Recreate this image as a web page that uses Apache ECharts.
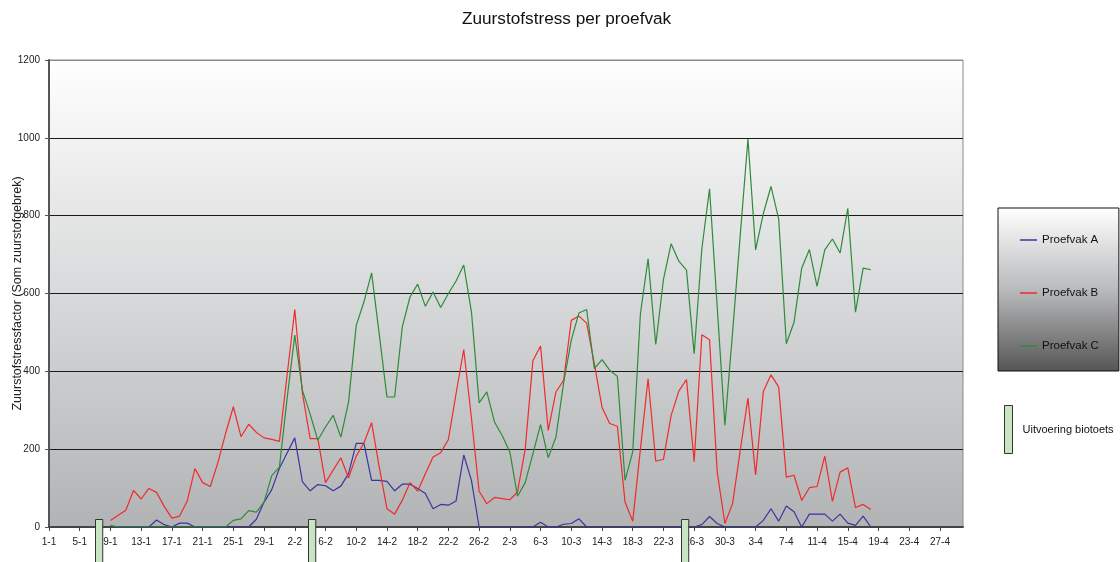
<!DOCTYPE html>
<html>
<head>
<meta charset="utf-8">
<title>Zuurstofstress per proefvak</title>
<script src="https://cdn.jsdelivr.net/npm/echarts@6/dist/echarts.min.js"></script>
<style>
  html, body { margin: 0; padding: 0; background: #fff; }
  #chart { width: 1120px; height: 562px; }
</style>
</head>
<body>
<div id="chart"></div>
<script>
// dagen 1-1 t/m 30-4 (geen schrikkeljaar)
const maandLengtes = [31, 28, 31, 30];
const datums = [];
maandLengtes.forEach((n, m) => {
  for (let d = 1; d <= n; d++) datums.push(d + '-' + (m + 1));
});

// metingen lopen van 9-1 t/m 18-4
const startDatum = '9-1';

const proefvakA = [
  0, 0, 0, 0, 0, 0, 18, 6, 0, 10, 10, 0, 0, 0, 0, 0, 0, 0, 0, 20,
  64, 96, 151, 190, 229, 116, 93, 109, 106, 93, 105, 137, 215, 215, 120, 120, 117, 93, 110, 110,
  99, 86, 47, 58, 56, 67, 185, 120, 0, 0, 0, 0, 0, 0, 0, 0, 12, 0, 0, 7,
  9, 21, 0, 0, 0, 0, 0, 0, 0, 0, 0, 0, 0, 0, 0, 0, 0, 6, 27, 9,
  0, 0, 0, 0, 0, 17, 47, 15, 54, 39, 0, 33, 33, 33, 15, 33, 10, 4, 28, 0
];

const proefvakB = [
  17, 30, 43, 94, 72, 99, 89, 53, 23, 28, 67, 150, 114, 104, 166, 241, 309, 232, 264, 243,
  229, 225, 220, 390, 559, 343, 227, 227, 114, 146, 178, 126, 182, 216, 268, 154, 47, 33, 69, 114,
  92, 137, 180, 191, 225, 343, 456, 280, 92, 60, 76, 73, 70, 90, 200, 427, 465, 248, 347, 377,
  531, 542, 524, 420, 308, 266, 259, 64, 15, 200, 381, 169, 174, 287, 349, 379, 168, 494, 481, 141,
  9, 60, 197, 331, 134, 348, 391, 360, 128, 133, 68, 101, 104, 182, 66, 141, 152, 50, 58, 45
];

const proefvakC = [
  4, 0, 0, 0, 0, 0, 0, 0, 0, 0, 0, 0, 0, 0, 0, 0, 17, 21, 42, 38,
  64, 132, 154, 330, 493, 351, 290, 223, 257, 287, 231, 321, 518, 578, 653, 495, 334, 334, 514, 591,
  624, 567, 604, 564, 600, 632, 673, 553, 319, 347, 270, 235, 193, 79, 114, 188, 263, 178, 231, 370,
  480, 550, 559, 407, 430, 403, 387, 120, 193, 548, 689, 469, 636, 728, 683, 660, 445, 715, 869, 565,
  261, 500, 750, 997, 712, 805, 875, 792, 471, 526, 665, 713, 618, 712, 740, 704, 819, 552, 665, 661
];

// uitvoering biotoets
const biotoetsDatums = ['7-1', '4-2', '25-3'];
const biotoetsWaarde = 20;

const yMin = 0;
const yMax = 1200;
const yStap = 200;

const fontFamily = '"Liberation Sans", Arial, Helvetica, sans-serif';

// reeks op volle datumas zetten
function opAs(waarden) {
  const start = datums.indexOf(startDatum);
  return datums.map((d, i) => {
    const v = waarden[i - start];
    return v === undefined ? null : v;
  });
}

const chart = echarts.init(document.getElementById('chart'), null, { renderer: 'canvas' });

function lijn(naam, waarden, kleur) {
  return {
    name: naam,
    type: 'line',
    data: opAs(waarden),
    symbol: 'none',
    connectNulls: false,
    color: kleur,
    lineStyle: { width: 1.2, color: kleur }
  };
}

chart.setOption({
  animation: false,
  textStyle: { fontFamily: fontFamily },
  title: {
    text: 'Zuurstofstress per proefvak',
    left: 457,
    top: 6,
    textStyle: { fontSize: 17.2, fontWeight: 'normal', color: '#111', fontFamily: fontFamily }
  },
  legend: [
    {
      data: ['Proefvak A', 'Proefvak B', 'Proefvak C'],
      icon: 'rect',
      orient: 'vertical',
      left: 998,
      top: 208,
      itemWidth: 17,
      itemHeight: 1.5,
      itemGap: 41,
      padding: [26, 20, 19, 22],
      selectedMode: false,
      backgroundColor: {
        type: 'linear', x: 0, y: 0, x2: 0, y2: 1,
        colorStops: [
          { offset: 0, color: '#ffffff' },
          { offset: 0.5, color: '#b9babc' },
          { offset: 1, color: '#555555' }
        ]
      },
      borderColor: '#111',
      borderWidth: 1,
      textStyle: { fontSize: 11.5, color: '#111' }
    },
    {
      data: [{ name: 'Uitvoering biotoets', icon: 'rect' }],
      left: 1004,
      top: 405,
      itemWidth: 8,
      itemHeight: 48,
      padding: 0,
      selectedMode: false,
      itemStyle: { color: '#c9e4c1', borderColor: '#333', borderWidth: 1 },
      textStyle: { fontSize: 11, color: '#111', padding: [22, 0, 0, 5] }
    }
  ],
  grid: {
    left: 49,
    right: 157,
    top: 60,
    bottom: 35,
    containLabel: false,
    outerBoundsMode: 'none',
    show: true,
    borderColor: '#8a8a8a',
    borderWidth: 1,
    backgroundColor: {
      type: 'linear', x: 0, y: 0, x2: 0, y2: 1,
      colorStops: [
        { offset: 0, color: '#ffffff' },
        { offset: 1, color: '#b1b3b5' }
      ]
    }
  },
  xAxis: [
    {
      type: 'category',
      data: datums,
      boundaryGap: false,
      axisLine: { lineStyle: { color: '#444', width: 2 } },
      axisTick: { interval: 3, length: 4, lineStyle: { color: '#444' } },
      axisLabel: { interval: 3, fontSize: 10, color: '#222', margin: 10 },
      splitLine: { show: false }
    },
    {
      // biotoetsen staan midden in hun dag
      type: 'category',
      data: datums,
      boundaryGap: true,
      show: false
    }
  ],
  yAxis: {
    type: 'value',
    min: yMin,
    max: yMax,
    interval: yStap,
    name: 'Zuurstofstressfactor (Som zuurstofgebrek)',
    nameLocation: 'middle',
    nameGap: 25,
    nameRotate: 90,
    nameMoveOverlap: false,
    nameTextStyle: { fontSize: 12.5, color: '#222' },
    axisLine: { show: true, lineStyle: { color: '#555', width: 2 } },
    axisTick: { show: true, length: 4, lineStyle: { color: '#555' } },
    axisLabel: { fontSize: 10, color: '#222', margin: 9, formatter: v => String(v) },
    splitLine: {
      lineStyle: {
        color: ['#444', '#1a1a1a', '#1a1a1a', '#1a1a1a', '#1a1a1a', '#1a1a1a', '#8a8a8a'],
        width: 1
      }
    }
  },
  series: [
    lijn('Proefvak A', proefvakA, '#3b35a0'),
    lijn('Proefvak B', proefvakB, '#f02b2b'),
    lijn('Proefvak C', proefvakC, '#2e8b3a'),
    {
      name: 'Uitvoering biotoets',
      type: 'custom',
      xAxisIndex: 1,
      yAxisIndex: 0,
      clip: false,
      z: 5,
      itemStyle: { color: '#c9e4c1', borderColor: '#333', borderWidth: 1 },
      data: biotoetsDatums.map(d => [datums.indexOf(d), biotoetsWaarde]),
      renderItem: function (params, api) {
        const top = api.coord([api.value(0), api.value(1)]);
        const w = api.size([1, 0])[0] * 0.95;
        return {
          type: 'rect',
          shape: {
            x: Math.round(top[0] - w / 2) + 0.5,
            y: Math.round(top[1]) + 0.5,
            width: w,
            height: api.getHeight() - top[1] + 5
          },
          style: { fill: '#c9e4c1', stroke: '#333', lineWidth: 1 }
        };
      }
    }
  ]
});
</script>
</body>
</html>
